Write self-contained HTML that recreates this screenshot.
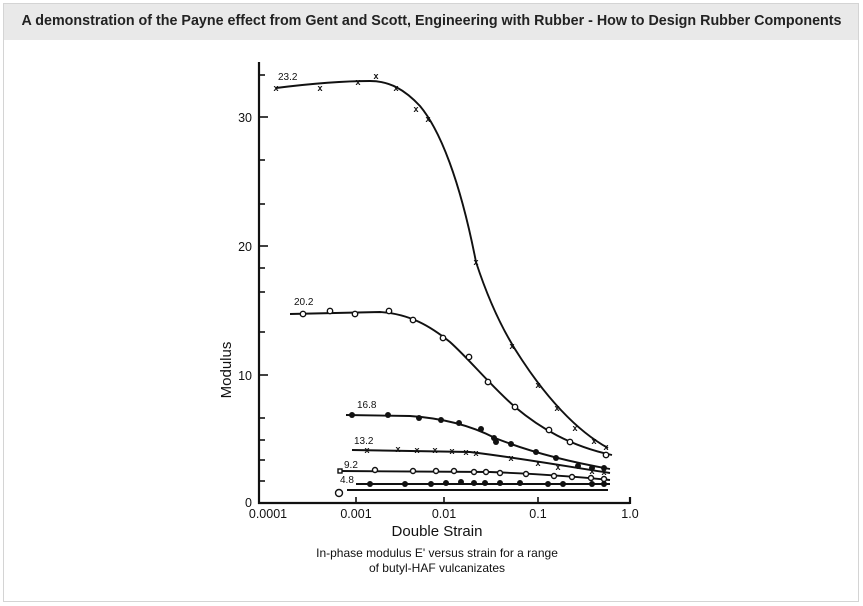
<!DOCTYPE html>
<html><head><meta charset="utf-8"><style>
html,body{margin:0;padding:0;background:#fff;}
body{width:863px;height:606px;overflow:hidden;font-family:"Liberation Sans",Arial,sans-serif;}
.frame{position:absolute;left:3px;top:3px;width:856px;height:599px;border:1px solid #d4d4d4;box-sizing:border-box;}
.hdr{position:absolute;left:4px;top:4px;width:854px;height:36px;background:#e9e9e9;}
.ttl{position:absolute;left:0;top:13px;width:863px;text-align:center;font-weight:bold;font-size:14.3px;color:#222;white-space:nowrap;}
svg{position:absolute;left:0;top:0;}
</style></head><body>
<div class="frame"></div><div class="hdr"></div>
<div class="ttl">A demonstration of the Payne effect from Gent and Scott, Engineering with Rubber - How to Design Rubber Components</div>
<svg width="863" height="606" viewBox="0 0 863 606" font-family="Liberation Sans, Arial, sans-serif">
<g stroke="#111" stroke-width="2.2" fill="none">
<line x1="259" y1="62" x2="259" y2="504"/>
<line x1="258" y1="503" x2="630" y2="503"/>
<line x1="630" y1="497" x2="630" y2="504"/>
</g>
<g stroke="#111" stroke-width="1.6">
<line x1="259" y1="75" x2="265" y2="75"/><line x1="259" y1="117" x2="268" y2="117"/>
<line x1="259" y1="160" x2="265" y2="160"/><line x1="259" y1="204" x2="265" y2="204"/>
<line x1="259" y1="246" x2="268" y2="246"/><line x1="259" y1="268" x2="265" y2="268"/>
<line x1="259" y1="292" x2="265" y2="292"/><line x1="259" y1="332" x2="265" y2="332"/>
<line x1="259" y1="375" x2="268" y2="375"/><line x1="259" y1="418" x2="265" y2="418"/>
<line x1="259" y1="440" x2="265" y2="440"/><line x1="259" y1="460" x2="265" y2="460"/>
<line x1="259" y1="481" x2="265" y2="481"/>
<line x1="356" y1="497" x2="356" y2="503"/><line x1="444" y1="497" x2="444" y2="503"/><line x1="538" y1="497" x2="538" y2="503"/>
</g>
<g font-size="12.5" fill="#111">
<text x="252" y="122" text-anchor="end">30</text>
<text x="252" y="251" text-anchor="end">20</text>
<text x="252" y="380" text-anchor="end">10</text>
<text x="252" y="507" text-anchor="end">0</text>
<text x="268" y="518" text-anchor="middle">0.0001</text>
<text x="356" y="518" text-anchor="middle">0.001</text>
<text x="444" y="518" text-anchor="middle">0.01</text>
<text x="538" y="518" text-anchor="middle">0.1</text>
<text x="630" y="518" text-anchor="middle">1.0</text>
</g>
<text x="437" y="536" font-size="15" text-anchor="middle" fill="#111">Double Strain</text>
<text x="231" y="370" font-size="15" text-anchor="middle" fill="#111" transform="rotate(-90 231 370)">Modulus</text>
<text x="437" y="557" font-size="12" text-anchor="middle" fill="#111">In-phase modulus  E' versus strain for a range</text>
<text x="437" y="572" font-size="12" text-anchor="middle" fill="#111">of butyl-HAF vulcanizates</text>
<g font-size="10" fill="#111">
<text x="278" y="80">23.2</text><text x="294" y="305">20.2</text><text x="357" y="408">16.8</text>
<text x="354" y="444">13.2</text><text x="344" y="468">9.2</text><text x="340" y="483">4.8</text>
</g>
<g stroke="#111" stroke-width="1.9" fill="none">
<path d="M276,88 C300,85 340,81 370,81 C390,81 405,90 420,106 C440,130 460,180 476,262 C490,305 505,335 522,360 C545,395 575,430 608,448"/>
<path d="M290,314 L380,312 C410,314 430,326 450,342 C470,360 490,385 515,407 C540,428 570,446 612,455"/>
<path d="M346,415 L410,416 C440,418 470,425 495,438 C530,452 570,462 610,469"/>
<path d="M352,450 L470,452 C520,458 570,467 610,473"/>
<path d="M340,471 L490,472 C540,474 580,477 610,480"/>
<path d="M356,484 L610,484"/>
<path d="M347,490 L608,490"/>
</g>
<g fill="#111">
<circle cx="352" cy="415" r="3"/><circle cx="388" cy="415" r="3"/><circle cx="419" cy="418" r="3"/><circle cx="441" cy="420" r="3"/><circle cx="459" cy="423" r="3"/><circle cx="481" cy="429" r="3"/><circle cx="494" cy="438" r="3"/><circle cx="496" cy="442" r="3"/><circle cx="511" cy="444" r="3"/><circle cx="536" cy="452" r="3"/><circle cx="556" cy="458" r="3"/><circle cx="578" cy="466" r="3"/><circle cx="592" cy="468" r="3"/><circle cx="604" cy="468" r="3"/>
<circle cx="370" cy="484" r="3"/><circle cx="405" cy="484" r="3"/><circle cx="431" cy="484" r="3"/><circle cx="446" cy="483" r="3"/><circle cx="461" cy="482" r="3"/><circle cx="474" cy="483" r="3"/><circle cx="485" cy="483" r="3"/><circle cx="500" cy="483" r="3"/><circle cx="520" cy="483" r="3"/><circle cx="548" cy="484" r="3"/><circle cx="563" cy="484" r="3"/><circle cx="592" cy="484" r="3"/><circle cx="604" cy="484" r="3"/>
</g>
<g fill="#fff" stroke="#111" stroke-width="1.4">
<circle cx="303" cy="314" r="2.7"/><circle cx="330" cy="311" r="2.7"/><circle cx="355" cy="314" r="2.7"/><circle cx="389" cy="311" r="2.7"/><circle cx="413" cy="320" r="2.7"/><circle cx="443" cy="338" r="2.7"/><circle cx="469" cy="357" r="2.7"/><circle cx="488" cy="382" r="2.7"/><circle cx="515" cy="407" r="2.7"/><circle cx="549" cy="430" r="2.7"/><circle cx="570" cy="442" r="2.7"/><circle cx="606" cy="455" r="2.7"/>
<rect x="338" y="469" width="4" height="4"/><circle cx="375" cy="470" r="2.5"/><circle cx="413" cy="471" r="2.5"/><circle cx="436" cy="471" r="2.5"/><circle cx="454" cy="471" r="2.5"/><circle cx="474" cy="472" r="2.5"/><circle cx="486" cy="472" r="2.5"/><circle cx="500" cy="473" r="2.5"/><circle cx="526" cy="474" r="2.5"/><circle cx="554" cy="476" r="2.5"/><circle cx="572" cy="477" r="2.5"/><circle cx="591" cy="478" r="2.5"/><circle cx="604" cy="479" r="2.5"/>
<circle cx="339" cy="493" r="3.5"/>
</g>
<g font-size="9" font-weight="bold" fill="#111" text-anchor="middle">
<text x="276" y="91">x</text><text x="320" y="91">x</text><text x="358" y="85">x</text><text x="376" y="79">x</text><text x="396" y="91">x</text><text x="416" y="112">x</text><text x="428" y="122">x</text><text x="476" y="265">x</text><text x="512" y="349">x</text><text x="538" y="388">x</text><text x="557" y="411">x</text><text x="575" y="431">x</text><text x="594" y="444">x</text><text x="606" y="450">x</text>
<text x="367" y="453">x</text><text x="398" y="452">x</text><text x="417" y="453">x</text><text x="435" y="453">x</text><text x="452" y="454">x</text><text x="466" y="455">x</text><text x="476" y="456">x</text><text x="511" y="461">x</text><text x="538" y="466">x</text><text x="558" y="470">x</text><text x="592" y="474">x</text><text x="604" y="475">x</text>
</g>
</svg>
</body></html>
